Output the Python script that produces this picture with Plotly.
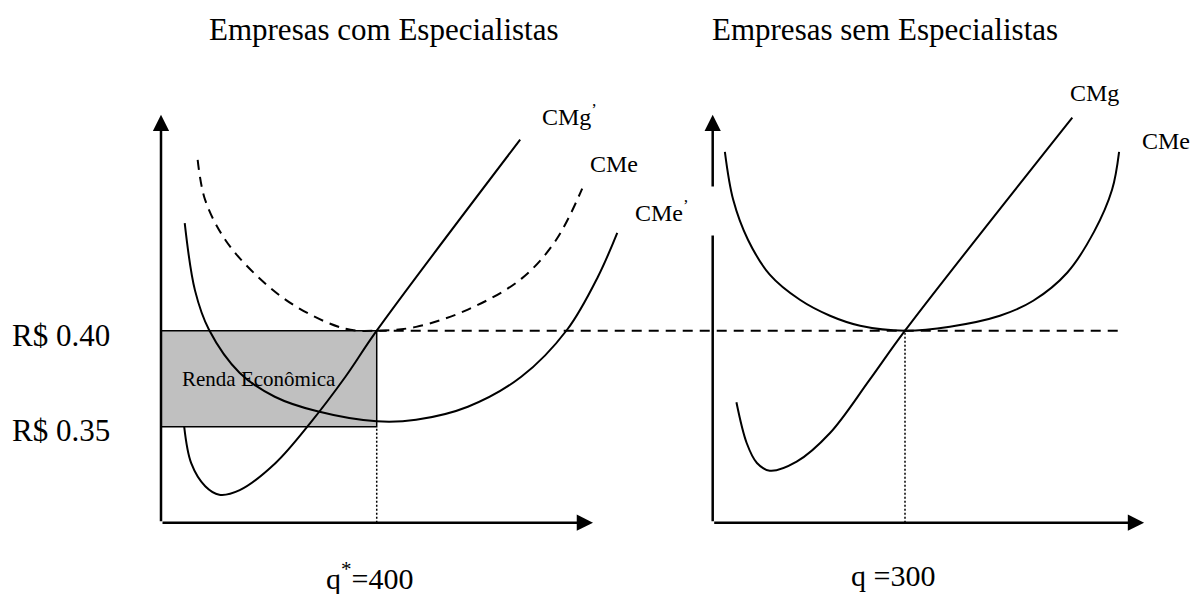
import plotly.graph_objects as go

# price levels and quantities
p_lucro = 0.40        # R$ 0.40
p_custo = 0.35        # R$ 0.35
q_com = 400           # q* with specialists
q_sem = 300           # q without specialists
q_dash_end = 635      # end of the dashed price line (right panel)

# Empresas com Especialistas
q_cme_com = [68, 82, 120, 180, 251, 342, 400, 473, 569, 668, 732, 781]
p_cme_com = [0.489, 0.468, 0.447, 0.428, 0.4125, 0.401, 0.400, 0.402, 0.411, 0.427, 0.447, 0.474]

q_cme_linha = [44, 63, 89, 146, 211, 290, 400, 473, 569, 668, 753, 810, 846]
p_cme_linha = [0.456, 0.421, 0.4005, 0.378, 0.3656, 0.358, 0.3528, 0.3536, 0.3604, 0.376, 0.4005, 0.428, 0.451]

q_cmg_linha = [43, 56, 82, 108, 146, 212, 277, 342, 400, 666]
p_cmg_linha = [0.350, 0.331, 0.319, 0.3146, 0.317, 0.331, 0.352, 0.376, 0.400, 0.4995]

# Empresas sem Especialistas
q_cme_sem = [19, 32, 55, 89, 136, 183, 230, 300, 370, 448, 500, 553, 595, 623, 634]
p_cme_sem = [0.4932, 0.4682, 0.4474, 0.4292, 0.4161, 0.4078, 0.4026, 0.400, 0.4021, 0.4078,
             0.4156, 0.4302, 0.4516, 0.4734, 0.4932]

q_cmg_sem = [37, 53, 69, 89, 131, 183, 245, 300, 561]
p_cmg_sem = [0.3627, 0.3415, 0.3311, 0.3271, 0.3318, 0.3467, 0.3745, 0.400, 0.511]

# page geometry: where the axes sit and how many pixels per unit
W, H = 1195, 594
LEFT_X0, LEFT_PX_Q = 161, 0.5393
RIGHT_X0, RIGHT_PX_Q = 712.7, 0.641
Y_FLOOR, P_FLOOR, PX_P = 522.7, 0.30, 1920
Q_LEFT_MAX, Q_RIGHT_MAX, P_TOP = 801, 673, 0.5125

xl_range = [-LEFT_X0 / LEFT_PX_Q, (W - LEFT_X0) / LEFT_PX_Q]
xr_range = [-RIGHT_X0 / RIGHT_PX_Q, (W - RIGHT_X0) / RIGHT_PX_Q]
y_range = [P_FLOOR - (H - Y_FLOOR) / PX_P, P_FLOOR + Y_FLOOR / PX_P]


def right_to_left(q):
    px = RIGHT_X0 + q * RIGHT_PX_Q
    return (px - LEFT_X0) / LEFT_PX_Q


FONT = "Liberation Serif, Times New Roman, serif"

fig = go.Figure()


def curve(x, y, xaxis="x", dash="solid", width=2):
    fig.add_trace(go.Scatter(
        x=x, y=y, mode="lines", xaxis=xaxis, yaxis="y", hoverinfo="skip",
        line=dict(color="black", width=width, dash=dash, shape="spline", smoothing=1.0)
    ))


curve(q_cme_com, p_cme_com, dash="10px,7px")
curve(q_cme_linha, p_cme_linha)
curve(q_cmg_linha, p_cmg_linha)
curve(q_cme_sem, p_cme_sem, xaxis="x2")
curve(q_cmg_sem, p_cmg_sem, xaxis="x2")

# dashed price line through both panels
fig.add_trace(go.Scatter(x=[q_com, right_to_left(q_dash_end)], y=[p_lucro, p_lucro], mode="lines",
                         hoverinfo="skip", line=dict(color="black", width=2, dash="10px,7px")))
# dotted drop lines
fig.add_trace(go.Scatter(x=[q_com, q_com], y=[P_FLOOR, p_custo], mode="lines", hoverinfo="skip",
                         line=dict(color="black", width=1.5, dash="2px,2px")))
fig.add_trace(go.Scatter(x=[q_sem, q_sem], y=[P_FLOOR, p_lucro], mode="lines", xaxis="x2",
                         hoverinfo="skip", line=dict(color="black", width=1.5, dash="2px,2px")))

# renda economica box
fig.add_shape(type="rect", xref="x", yref="y", x0=0, x1=q_com, y0=p_custo, y1=p_lucro,
              fillcolor="#c0c0c0", line=dict(color="black", width=1.5), layer="below")

annotations = []


def axis_arrow(xref, x, y, ax, ay):
    annotations.append(dict(text="", xref=xref, yref="y", axref=xref, ayref="y", x=x, y=y, ax=ax, ay=ay,
                            showarrow=True, arrowhead=2, arrowsize=1.3, arrowwidth=2.5,
                            arrowcolor="black", standoff=0))


axis_arrow("x", 0, P_TOP, 0, P_FLOOR)
axis_arrow("x", Q_LEFT_MAX, P_FLOOR, 0, P_FLOOR)
axis_arrow("x2", 0, P_TOP, 0, P_FLOOR)
axis_arrow("x2", Q_RIGHT_MAX, P_FLOOR, 0, P_FLOOR)


def label(text, xref, x, y, size=24, **kw):
    d = dict(text=text, xref=xref, yref="y", x=x, y=y, showarrow=False, xanchor="left",
             yanchor="middle", font=dict(family=FONT, size=size, color="black"))
    d.update(kw)
    annotations.append(d)


label("CMg<sup>’</sup>", "x", 703, 0.5125)
label("CMe", "x", 792, 0.487)
label("CMe<sup>’</sup>", "x", 877, 0.4625, bgcolor="white", width=80, height=48, align="left", borderpad=0)
label("CMg", "x2", 554, 0.524)
label("CMe", "x2", 666, 0.499)
label("Renda Econômica", "x", 35, 0.375, size=21)

# price ticks
label("R$ 0.40", "x", 0, p_lucro, size=31, xanchor="right", xshift=-49, yshift=-5)
label("R$ 0.35", "x", 0, p_custo, size=31, xanchor="right", xshift=-49, yshift=-4)
# quantity ticks
label("q<sup>*</sup>=400", "x", q_com, P_FLOOR, size=30, xanchor="center", xshift=-7, yshift=-53)
label("q =300", "x2", q_sem, P_FLOOR, size=30, xanchor="center", xshift=-12, yshift=-53)

# panel titles
for txt, xp in [("Empresas com Especialistas", 384), ("Empresas sem Especialistas", 885)]:
    annotations.append(dict(text=txt, xref="paper", yref="paper", x=xp / W, y=1 - 29 / H,
                            showarrow=False, xanchor="center", yanchor="middle",
                            font=dict(family=FONT, size=31, color="black")))

fig.update_layout(
    width=W, height=H,
    margin=dict(l=0, r=0, t=0, b=0),
    paper_bgcolor="white", plot_bgcolor="white",
    showlegend=False,
    xaxis=dict(domain=[0, 1], range=xl_range, visible=False, fixedrange=True),
    xaxis2=dict(domain=[0, 1], range=xr_range, overlaying="x", visible=False, fixedrange=True),
    yaxis=dict(domain=[0, 1], range=y_range, visible=False, fixedrange=True),
    annotations=annotations,
)

# drop the default page margin so the figure fills the window exactly
fig.write_html("out.html", config={"displayModeBar": False},
               post_script="document.body.style.margin = '0px';")
